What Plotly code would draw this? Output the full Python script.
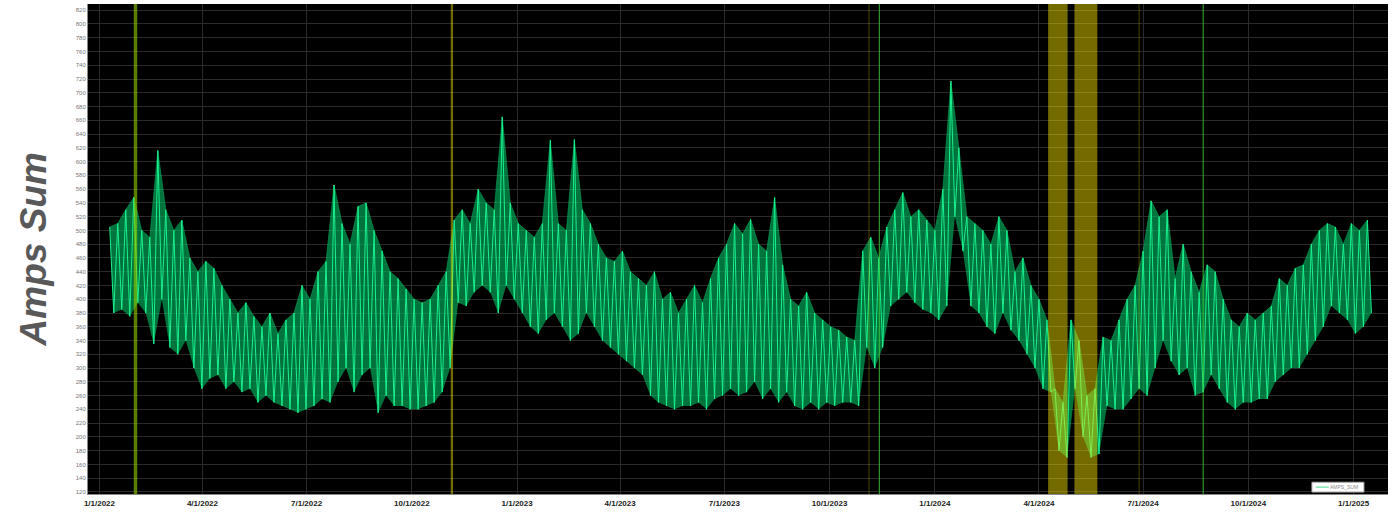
import pandas as pd
import plotly.graph_objects as go

# Weekly envelope of AMPS_SUM (week starting dates)
week_start = pd.date_range("2022-01-10", periods=158, freq="7D")

weekly_high = [
    505, 510, 530, 548, 500, 490, 616, 530, 500, 515,
    460, 440, 455, 445, 420, 400, 380, 395, 375, 360,
    380, 350, 370, 380, 420, 400, 440, 455, 566, 510,
    480, 535, 540, 500, 470, 440, 430, 415, 400, 395,
    400, 420, 440, 515, 530, 510, 560, 540, 530, 665,
    540, 510, 500, 490, 510, 631, 510, 500, 632, 530,
    510, 480, 460, 455, 470, 440, 430, 420, 440, 400,
    410, 380, 400, 420, 395, 430, 460, 480, 510, 495,
    516, 480, 470, 548, 450, 400, 390, 410, 380, 370,
    360, 355, 345, 340, 470, 490, 460, 505, 530, 555,
    520, 530, 515, 500, 560, 717, 620, 520, 510, 500,
    480, 520, 500, 440, 460, 420, 400, 370, 270, 250,
    370, 340, 260, 270, 345, 340, 370, 400, 420, 470,
    543, 520, 530, 430, 480, 440, 410, 450, 440, 400,
    370, 360, 380, 370, 380, 390, 430, 420, 445, 450,
    480, 500, 510, 505, 480, 510, 500, 515,
]

weekly_low = [
    380, 385, 375, 395, 380, 335, 400, 330, 320, 340,
    300, 270, 285, 290, 270, 280, 265, 270, 250, 260,
    250, 245, 240, 235, 240, 245, 255, 250, 280, 300,
    265, 290, 300, 235, 260, 245, 245, 240, 240, 245,
    250, 265, 300, 395, 390, 410, 420, 410, 380, 420,
    400, 380, 360, 350, 370, 380, 360, 340, 350, 380,
    360, 340, 330, 320, 310, 300, 290, 260, 250, 245,
    240, 245, 245, 250, 240, 255, 260, 270, 260, 265,
    280, 255, 270, 250, 265, 245, 240, 250, 240, 250,
    245, 250, 250, 245, 330, 300, 330, 390, 400, 410,
    395, 385, 380, 370, 390, 520, 470, 390, 380, 360,
    350, 380, 355, 340, 320, 300, 270, 265, 180, 170,
    270, 200, 170, 175, 245, 240, 240, 255, 270, 260,
    300, 340, 310, 290, 300, 260, 265, 290, 270, 250,
    240, 250, 250, 255, 255, 280, 290, 300, 300, 320,
    340, 360, 390, 380, 370, 350, 360, 380,
]

# Highlighted event periods (start, end, kind)
event_periods = [
    ("2022-01-31", "2022-02-03", "lime"),
    ("2022-11-04", "2022-11-06", "band"),
    ("2023-11-04", "2023-11-05", "faint"),
    ("2023-11-13", "2023-11-14", "green"),
    ("2024-04-09", "2024-04-26", "band"),
    ("2024-05-02", "2024-05-22", "band"),
    ("2024-06-27", "2024-06-28", "faint"),
    ("2024-08-22", "2024-08-23", "green"),
]

series_name = "AMPS_SUM"
y_ticks = list(range(120, 821, 20))
x_ticks = pd.date_range("2022-01-01", "2025-01-01", freq="3MS")
x_tick_text = [f"{d.month}/{d.day}/{d.year}" for d in x_ticks]

# zig-zag between weekly high and low values
half_week = pd.Timedelta(hours=84)
xs, ys = [], []
for d, h, l in zip(week_start, weekly_high, weekly_low):
    xs.append(d)
    ys.append(h)
    xs.append(d + half_week)
    ys.append(l)
low_x = [d + half_week for d in week_start]

fig = go.Figure()
# envelope band (low -> high)
fig.add_trace(go.Scatter(x=low_x, y=weekly_low, mode="lines",
                         line=dict(width=0, color="rgba(0,0,0,0)"),
                         showlegend=False, hoverinfo="skip"))
fig.add_trace(go.Scatter(x=list(week_start), y=weekly_high, mode="lines",
                         line=dict(width=0.6, color="rgba(0,170,90,0.9)"),
                         fill="tonexty", fillcolor="rgba(0,190,100,0.6)",
                         showlegend=False, hoverinfo="skip"))
fig.add_trace(go.Scatter(
    x=xs, y=ys, mode="lines", name=series_name, showlegend=False,
    line=dict(color="#19f08e", width=1),
))

band_colors = {
    "band": "rgba(255,235,0,0.45)",
    "lime": "rgba(150,210,0,0.6)",
    "faint": "rgba(255,235,0,0.25)",
    "green": "rgba(60,200,60,0.8)",
}
for s, e, kind in event_periods:
    fig.add_shape(type="rect", xref="x", yref="paper", x0=s, x1=e, y0=0, y1=1,
                  fillcolor=band_colors[kind], line=dict(width=0), layer="above")

# compact legend box (bottom right, inside the plot)
fig.add_shape(type="rect", xref="paper", yref="paper", x0=0.9415, x1=0.9815,
              y0=0.004, y1=0.024, fillcolor="white",
              line=dict(color="#aaa", width=1), layer="above")
fig.add_shape(type="line", xref="paper", yref="paper", x0=0.9445, x1=0.9545,
              y0=0.014, y1=0.014, line=dict(color="#7fe6b0", width=1.5),
              layer="above")
fig.add_annotation(text=series_name, xref="paper", yref="paper", x=0.9785,
                   y=0.014, xanchor="right", yanchor="middle", showarrow=False,
                   font=dict(size=5, color="#888"))

fig.add_annotation(
    text="Amps Sum", xref="paper", yref="paper", x=-0.042, y=0.5,
    xanchor="center", yanchor="middle", textangle=-90, showarrow=False,
    font=dict(family="Liberation Sans, Arial", size=37, color="#595959",
              weight="bold", style="italic"),
)

fig.update_layout(
    width=1396, height=512,
    margin=dict(l=88, r=8, t=4, b=12),
    paper_bgcolor="white", plot_bgcolor="black",
    showlegend=False,
    font=dict(family="Liberation Sans, Arial"),
)
fig.update_xaxes(
    range=["2021-12-22", "2025-01-31"], tickvals=x_ticks, ticktext=x_tick_text,
    tickfont=dict(size=8, color="#222", weight="bold"),
    showgrid=True, gridcolor="#2a2a2a", gridwidth=1, zeroline=False,
    showline=True, linecolor="#888", ticks="", ticklabelstandoff=1,
)
fig.update_yaxes(
    range=[117, 829], tickvals=y_ticks,
    tickfont=dict(size=6, color="#777"),
    showgrid=True, gridcolor="#2a2a2a", gridwidth=1, zeroline=False,
    showline=True, linecolor="#888", ticks="",
)

fig.write_html("out.html", config={"displayModeBar": False},
               post_script="document.body.style.margin='0';")
